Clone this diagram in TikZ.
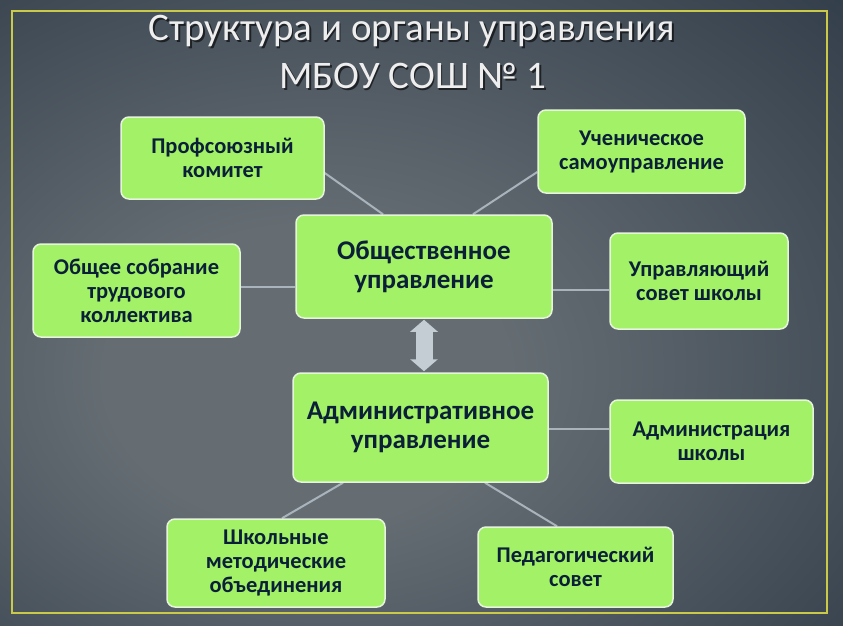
\documentclass[tikz,border=0pt]{standalone}
\usepackage{fontspec}
\setmainfont{Carlito}
\usetikzlibrary{calc,arrows.meta}
\definecolor{bgin}{HTML}{656D73}
\definecolor{bgout}{HTML}{1A2737}
\definecolor{frameyel}{HTML}{CACA48}
\definecolor{boxfill}{HTML}{A2F166}
\definecolor{boxline}{HTML}{E6F4DC}
\definecolor{boxtext}{HTML}{0B2038}
\definecolor{linkcol}{HTML}{A9B3BB}
\definecolor{arrowcol}{HTML}{C4CCD4}
\definecolor{titlecol}{HTML}{EEEEEE}
\pgfdeclarelayer{bg}
\pgfdeclarelayer{links}
\pgfsetlayers{bg,links,main}
\pgfdeclareradialshading{bgshade}{\pgfpoint{-8bp}{-6bp}}{color(0bp)=(bgin); color(12bp)=(bgin); color(55bp)=(bgout); color(80bp)=(bgout)}
\tikzset{
  box/.style={draw=boxline, line width=1.5pt, fill=boxfill, rounded corners=8pt,
    inner sep=0pt, align=center, text=boxtext, font=\bfseries\fontsize{22.5}{24}\selectfont},
  bigbox/.style={box, font=\bfseries\fontsize{27}{29}\selectfont},
  link/.style={draw=linkcol, line width=2pt},
  bigarrow/.style={draw=arrowcol, line width=17pt, {Triangle[length=12pt,width=27pt]}-{Triangle[length=12pt,width=27pt]}},
  titletext/.style={font=\fontsize{39}{44}\selectfont, text=titlecol},
  shadowtext/.style={font=\fontsize{39}{44}\selectfont, text=black, opacity=0.6}
}
\begin{document}
\begin{tikzpicture}[x=1pt,y=-1pt]
\useasboundingbox (0,0) rectangle (843,635);
\begin{pgfonlayer}{bg}
\fill[white] (0,0) rectangle (843,635);
\shade[shading=bgshade] (0,0) rectangle (843,625);
\draw[frameyel, line width=2pt] (12,11) rectangle (827,613);
\end{pgfonlayer}
% title
\node[shadowtext] at (413.5,32.5) {Структура и органы управления};
\node[titletext] (t1) at (412,31) {Структура и органы управления};
\node[shadowtext] at (414.5,77.5) {МБОУ СОШ № 1};
\node[titletext] (t2) at (413,76) {МБОУ СОШ № 1};
% boxes
\node[box, minimum width=203, minimum height=82] (prof) at (222.5,158) {Профсоюзный\\комитет};
\node[box, minimum width=207, minimum height=83] (uchen) at (641.5,151.5) {Ученическое\\самоуправление};
\node[bigbox, minimum width=256, minimum height=103] (obsh) at (424,266.5) {Общественное\\управление};
\node[box, minimum width=207, minimum height=93] (sobr) at (136.5,290.5) {Общее собрание\\трудового\\коллектива};
\node[box, minimum width=178, minimum height=96] (upr) at (699,281) {Управляющий\\совет школы};
\node[bigbox, minimum width=255, minimum height=109] (admin) at (420.5,427.5) {Административное\\управление};
\node[box, minimum width=203, minimum height=83] (adsch) at (711.5,441.5) {Администрация\\школы};
\node[box, minimum width=218, minimum height=88] (shmo) at (276,563) {Школьные\\методические\\объединения};
\node[box, minimum width=195, minimum height=80] (ped) at (575.5,567) {Педагогический\\совет};
% connectors
\begin{pgfonlayer}{links}
\draw[link] ($(prof.east)+(0,15)$) -- ($(obsh.north)+(-41,0)$);
\draw[link] ($(uchen.west)+(0,20.5)$) -- ($(obsh.north)+(49,0)$);
\draw[link] ($(sobr.east)+(0,-3.5)$) coordinate (a1) -- (a1 -| obsh.west);
\draw[link] ($(upr.west)+(0,9)$) coordinate (a2) -- (a2 -| obsh.east);
\draw[link] ($(adsch.west)+(0,-12.5)$) coordinate (a3) -- (a3 -| admin.east);
\draw[link] ($(shmo.north)+(6,0)$) -- ($(admin.south)+(-77.5,0)$);
\draw[link] ($(ped.north)+(-18.5,0)$) -- ($(admin.south)+(64.5,0)$);
\end{pgfonlayer}
\draw[bigarrow] ($(obsh.south)+(0,1)$) -- ($(obsh.south |- admin.north)+(0,-1)$);
\end{tikzpicture}
\end{document}
